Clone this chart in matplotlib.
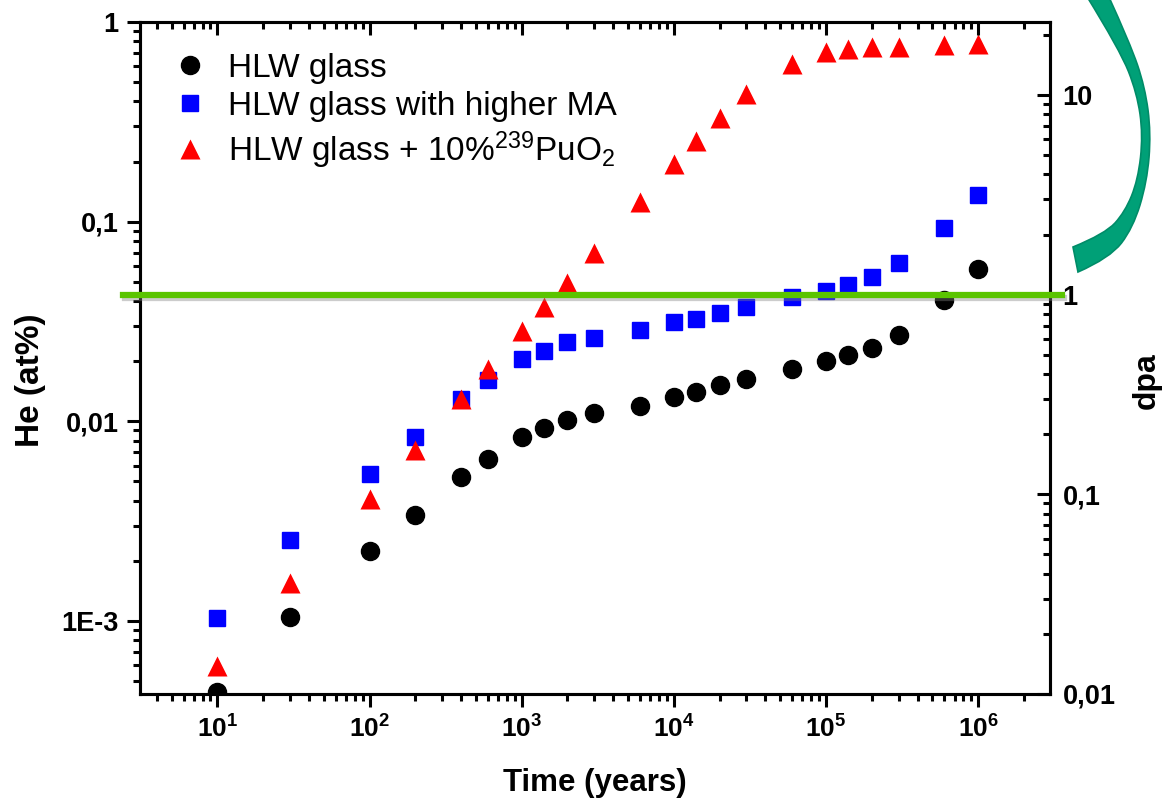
import numpy as np
import matplotlib
matplotlib.use("Agg")
import matplotlib.pyplot as plt
import matplotlib.ticker as mticker
import matplotlib.patheffects as pe
from matplotlib.path import Path
from matplotlib.patches import PathPatch

plt.rcParams['font.family'] = ['Liberation Sans', 'DejaVu Sans']
plt.rcParams['mathtext.fontset'] = 'custom'
plt.rcParams['mathtext.rm'] = 'Liberation Sans'
plt.rcParams['mathtext.it'] = 'Liberation Sans:italic'
plt.rcParams['mathtext.bf'] = 'Liberation Sans:bold'

# time (years)
times = [10, 30, 100, 200, 400, 600, 1000, 1400, 2000, 3000, 6000,
         1e4, 1.4e4, 2e4, 3e4, 6e4, 1e5, 1.4e5, 2e5, 3e5, 6e5, 1e6]

# He (at%)
hlw = [4.4e-4, 1.05e-3, 2.24e-3, 3.39e-3, 5.25e-3, 6.5e-3, 8.3e-3, 9.3e-3,
       0.0102, 0.011, 0.0119, 0.0132, 0.014, 0.0151, 0.0162, 0.0182,
       0.0200, 0.0214, 0.0232, 0.0269, 0.0403, 0.0582]
hlw_ma = [1.03e-3, 2.54e-3, 5.43e-3, 8.3e-3, 0.0129, 0.016, 0.0204, 0.0226,
          0.0248, 0.026, 0.0288, 0.0313, 0.0327, 0.0347, 0.0372, 0.0417,
          0.0447, 0.0479, 0.0525, 0.0617, 0.0933, 0.136]
hlw_pu = [5.96e-4, 1.55e-3, 4.07e-3, 7.16e-3, 0.0129, 0.0182, 0.0282, 0.0372,
          0.049, 0.07, 0.126, 0.195, 0.254, 0.331, 0.437, 0.617,
          0.708, 0.733, 0.75, 0.75, 0.767, 0.776]

labels = ['HLW glass', 'HLW glass with higher MA',
          'HLW glass + 10%$^{239}$PuO$_2$']

left_ticks = {1: '1', 0.1: '0,1', 0.01: '0,01', 0.001: '1E-3'}
right_ticks = {10: '10', 1: '1', 0.1: '0,1', 0.01: '0,01'}

fig = plt.figure(figsize=(11.63, 8.01), dpi=100)
ax = fig.add_axes([140/1163, 107/801, 910/1163, 672/801])
ax2 = ax.twinx()

ax.plot(times, hlw, 'o', color='black', ms=13, label=labels[0])
ax.plot(times, hlw_ma, 's', color='#0000FF', ms=11, label=labels[1])
ax.plot(times, hlw_pu, '^', color='#FF0000', ms=15, mec='none', label=labels[2])

ax.set_xscale('log')
ax.set_yscale('log')
ax.set_xlim(3.1, 2.97e6)
ax.set_ylim(4.3e-4, 1)
ax2.set_yscale('log')
ax2.set_ylim(0.01, 23.2)

sub = np.arange(2, 10)
ax.xaxis.set_major_locator(mticker.LogLocator(base=10, numticks=20))
ax.xaxis.set_minor_locator(mticker.LogLocator(base=10, subs=sub, numticks=20))
ax.xaxis.set_major_formatter(mticker.FuncFormatter(
    lambda v, p: r'$\mathbf{10^{%d}}$' % round(np.log10(v))))
ax.xaxis.set_minor_formatter(mticker.NullFormatter())

ax.yaxis.set_major_locator(mticker.FixedLocator(list(left_ticks)))
ax.yaxis.set_minor_locator(mticker.LogLocator(base=10, subs=sub, numticks=20))
ax.yaxis.set_major_formatter(mticker.FuncFormatter(
    lambda v, p: left_ticks.get(round(v, 6), '')))
ax.yaxis.set_minor_formatter(mticker.NullFormatter())

ax2.yaxis.set_major_locator(mticker.FixedLocator(list(right_ticks)))
ax2.yaxis.set_minor_locator(mticker.LogLocator(base=10, subs=sub, numticks=20))
ax2.yaxis.set_major_formatter(mticker.FuncFormatter(
    lambda v, p: right_ticks.get(round(v, 6), '')))
ax2.yaxis.set_minor_formatter(mticker.NullFormatter())

for a in (ax, ax2):
    for s in a.spines.values():
        s.set_linewidth(2.2)

ax.tick_params(axis='x', which='both', direction='out', top=False,
               width=2.2, labelsize=19, pad=6)
ax.tick_params(axis='x', which='major', length=9.5)
ax.tick_params(axis='x', which='minor', length=5)
ax.tick_params(axis='y', which='both', direction='out', right=False,
               width=2.2, labelsize=19.5, pad=6)
ax.tick_params(axis='y', which='major', length=9.5)
ax.tick_params(axis='y', which='minor', length=5)

ax2.xaxis.set_visible(True)
ax2.tick_params(axis='x', which='both', direction='in', bottom=False, top=True,
                labelbottom=False, labeltop=False, width=2.2)
ax2.tick_params(axis='x', which='major', length=9.5)
ax2.tick_params(axis='x', which='minor', length=5)
ax2.tick_params(axis='y', which='both', direction='in', width=2.2,
                labelsize=19.5, pad=9)
ax2.tick_params(axis='y', which='major', length=9.5)
ax2.tick_params(axis='y', which='minor', length=5)
for t in ax.get_yticklabels() + ax2.get_yticklabels():
    t.set_fontweight('bold')

ax.set_xlabel('Time (years)', fontsize=22.5, fontweight='bold')
ax.xaxis.set_label_coords(0.5, -0.11)
ax.set_ylabel('He (at%)', fontsize=24, fontweight='bold')
ax.yaxis.set_label_coords(-0.103, 0.467)
ax2.set_ylabel('dpa', fontsize=23, fontweight='bold')
ax2.yaxis.set_label_coords(1.09, 0.467)

# dpa = 1 threshold line
ax2.axhline(1, xmin=-0.0187, xmax=1.0132, color='#5AC400', lw=4.5,
            clip_on=False, zorder=5,
            path_effects=[pe.SimpleLineShadow(offset=(1.5, -2.5),
                                              shadow_color='gray', alpha=0.4),
                          pe.Normal()])

ax.legend(loc='upper left', bbox_to_anchor=(0.0368, 0.9545), frameon=False,
          fontsize=24, handlelength=1.0, handletextpad=0.65,
          labelspacing=0.22, borderaxespad=0, borderpad=0)

# decorative curved arrow at the top right
inner = [(1086, -5), (1120, 50), (1137, 93), (1143, 135), (1138, 180),
         (1125, 212), (1105, 234), (1073, 247)]
outer = [(1078, 272), (1110, 258), (1133, 228), (1147, 182), (1151, 133),
         (1145, 87), (1130, 43), (1108, -5)]


def smooth(pts):
    verts, codes = [pts[0]], [Path.LINETO]
    for i in range(1, len(pts) - 2):
        mid = ((pts[i][0] + pts[i + 1][0]) / 2, (pts[i][1] + pts[i + 1][1]) / 2)
        verts += [pts[i], mid]
        codes += [Path.CURVE3, Path.CURVE3]
    verts += [pts[-2], pts[-1]]
    codes += [Path.CURVE3, Path.CURVE3]
    return verts, codes


v1, c1 = smooth(inner)
v2, c2 = smooth(outer)
verts = v1 + v2 + [inner[0]]
codes = [Path.MOVETO] + c1[1:] + [Path.LINETO] + c2[1:] + [Path.CLOSEPOLY]
verts = [(x / 1163, 1 - y / 801) for x, y in verts]
arc = PathPatch(Path(verts, codes), facecolor='#00A077', edgecolor='#008C68',
                lw=1.2, transform=fig.transFigure, clip_on=False)
fig.add_artist(arc)

fig.savefig('out.png', dpi=100)
